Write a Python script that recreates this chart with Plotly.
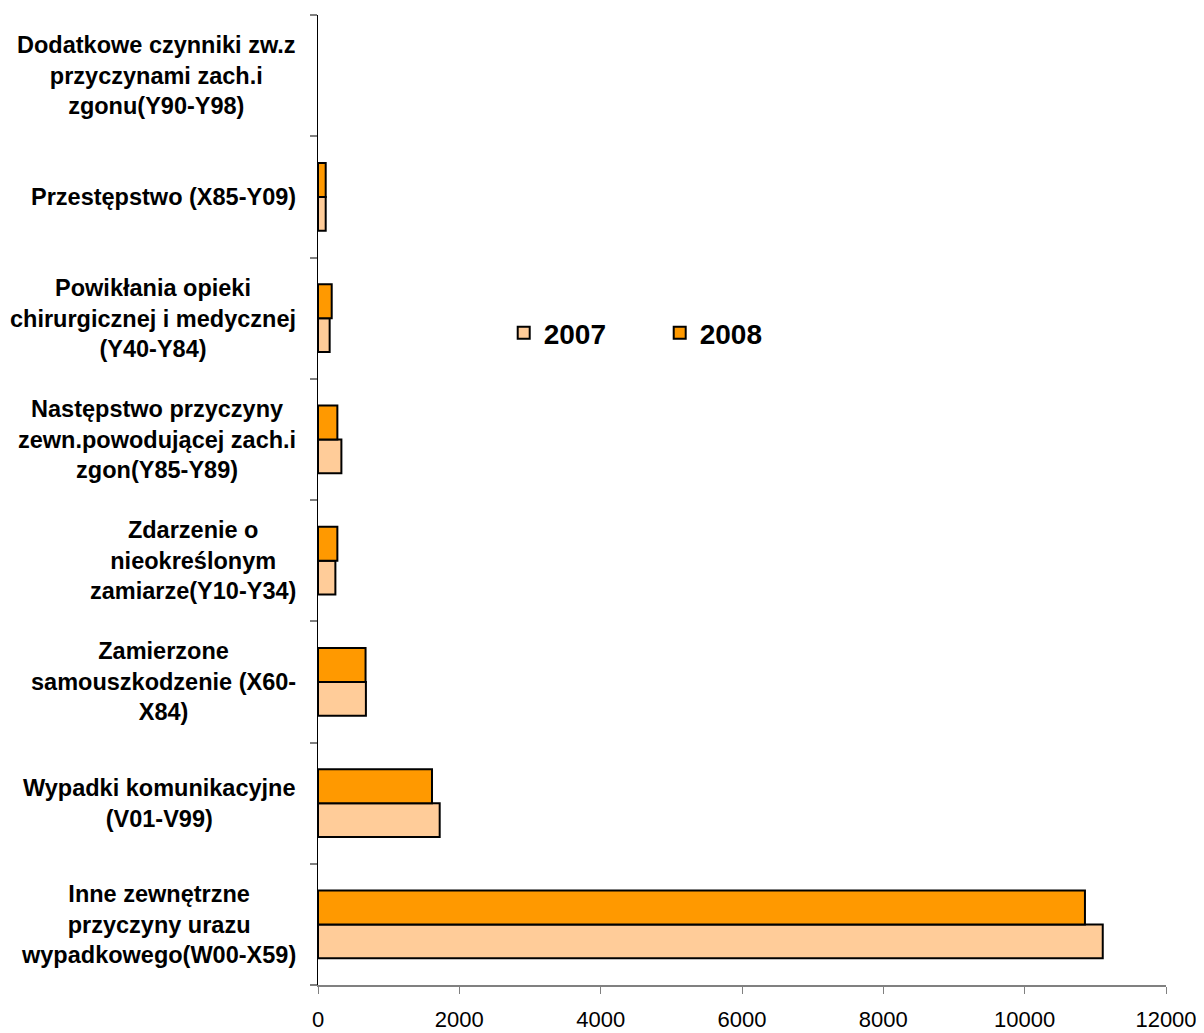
import plotly.graph_objects as go

categories = [
    "Inne zewnętrzne<br>przyczyny urazu<br>wypadkowego(W00-X59)",
    "Wypadki komunikacyjne<br>(V01-V99)",
    "Zamierzone<br>samouszkodzenie (X60-<br>X84)",
    "Zdarzenie o<br>nieokreślonym<br>zamiarze(Y10-Y34)",
    "Następstwo przyczyny<br>zewn.powodującej zach.i<br>zgon(Y85-Y89)",
    "Powikłania opieki<br>chirurgicznej i medycznej<br>(Y40-Y84)",
    "Przestępstwo (X85-Y09)",
    "Dodatkowe czynniki zw.z<br>przyczynami zach.i<br>zgonu(Y90-Y98)",
]
values_2007 = [11105, 1722, 678, 246, 331, 165, 109, 0]
values_2008 = [10853, 1613, 673, 274, 274, 194, 109, 0]
x_ticks = [0, 2000, 4000, 6000, 8000, 10000, 12000]


def outline_widths(vals):
    return [2 if v > 0 else 0 for v in vals]


fig = go.Figure()
fig.add_trace(go.Bar(
    y=categories, x=values_2007, orientation="h", name="2007",
    marker=dict(color="#FFCC99",
                line=dict(color="#000000", width=outline_widths(values_2007))),
))
fig.add_trace(go.Bar(
    y=categories, x=values_2008, orientation="h", name="2008",
    marker=dict(color="#FF9900",
                line=dict(color="#000000", width=outline_widths(values_2008))),
))

for c in categories:
    fig.add_annotation(
        x=0, xref="paper", y=c, yref="y", text=c, showarrow=False,
        xanchor="right", yanchor="middle", align="center", xshift=-20,
        font=dict(family="Liberation Sans, Arial, sans-serif", size=23.5,
                  color="#000000", weight="bold"),
    )

# page body has an 8px default margin, so the figure is offset by 8px
fig.update_layout(
    width=1196, height=1025,
    margin=dict(l=310, r=38, t=7, b=48),
    paper_bgcolor="white", plot_bgcolor="white",
    barmode="group", bargap=0.44, bargroupgap=0,
    showlegend=True,
    legend=dict(
        orientation="h", x=0.219, y=0.672, xanchor="left", yanchor="middle",
        font=dict(family="Liberation Sans, Arial, sans-serif", size=28,
                  color="#000000", weight="bold"),
        entrywidth=111, entrywidthmode="pixels", bgcolor="rgba(0,0,0,0)",
    ),
    font=dict(family="Liberation Sans, Arial, sans-serif", color="#000000"),
)

fig.update_xaxes(
    range=[0, 12000], tickvals=x_ticks, ticktext=[str(v) for v in x_ticks],
    showgrid=False, zeroline=False, automargin=False,
    showline=True, linecolor="#808080", linewidth=2,
    ticks="outside", ticklen=7, tickcolor="#808080", tickwidth=1,
    ticklabelstandoff=7,
    tickfont=dict(family="Liberation Sans, Arial, sans-serif", size=22, color="#000000"),
)
fig.update_yaxes(
    type="category", categoryorder="array", categoryarray=categories,
    range=[-0.5, len(categories) - 0.5], automargin=False,
    showticklabels=False, showgrid=False, zeroline=False,
    showline=True, linecolor="#000000", linewidth=1,
    ticks="outside", tickson="boundaries", ticklen=7, tickcolor="#808080", tickwidth=2,
)

fig.write_html("out.html")
